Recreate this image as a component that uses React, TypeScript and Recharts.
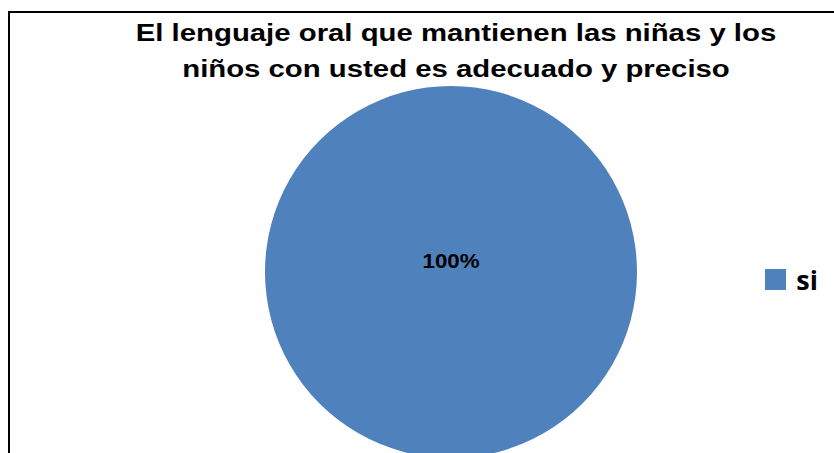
import React from "react";
import { PieChart, Pie, Cell, Legend } from "recharts";

const categories = ["si"];
const values = [100];
const percentLabels = ["100%"];
const titleLines = [
  "El lenguaje oral que mantienen las niñas y los",
  "niños con usted es adecuado y preciso",
];

const colors = ["#4F81BD"];

const data = categories.map((name, i) => ({ name, value: values[i] }));

const renderLabel = (props: any) => {
  const { cx, cy, index } = props;
  return (
    <text
      x={cx}
      y={cy - 12}
      textAnchor="middle"
      dominantBaseline="central"
      fill="#000"
      fontFamily="'Liberation Sans', Arial, sans-serif"
      fontWeight="bold"
      fontSize={21}
      textLength={57}
      lengthAdjust="spacingAndGlyphs"
    >
      {percentLabels[index]}
    </text>
  );
};

const renderLegend = () => (
  <div style={{ display: "flex", flexDirection: "column" }}>
    {categories.map((c, i) => (
      <div key={c} style={{ display: "flex", alignItems: "center" }}>
        <span
          style={{
            width: 21,
            height: 21,
            background: colors[i],
            display: "inline-block",
            marginRight: 10,
          }}
        />
        <span
          style={{
            fontFamily: "'Open Sans', 'Noto Sans', sans-serif",
            fontWeight: "bold",
            fontSize: 27,
            color: "#000",
          }}
        >
          {c}
        </span>
      </div>
    ))}
  </div>
);

export default function App() {
  return (
    <div
      style={{
        position: "fixed",
        left: 0,
        top: 0,
        width: 834,
        height: 453,
        background: "#fff",
        overflow: "hidden",
      }}
    >
      <div
        style={{
          position: "absolute",
          left: 8,
          top: 11,
          width: 840,
          height: 460,
          borderLeft: "2px solid #000",
          borderTop: "2px solid #000",
        }}
      />
      <div
        style={{
          position: "absolute",
          left: 0,
          top: 15,
          width: 912,
          textAlign: "center",
          fontFamily: "'Liberation Sans', Arial, sans-serif",
          fontWeight: "bold",
          fontSize: 23,
          lineHeight: "36px",
          color: "#000",
          transform: "scaleX(1.275)",
          transformOrigin: "456px 0",
        }}
      >
        {titleLines.map((t) => (
          <div key={t}>{t}</div>
        ))}
      </div>
      <PieChart
        width={834}
        height={453}
        margin={{ top: 0, right: 0, bottom: 0, left: 0 }}
        style={{ position: "absolute", left: 0, top: 0 }}
      >
        <Pie
          data={data}
          dataKey="value"
          nameKey="name"
          cx={451}
          cy={272}
          outerRadius={186}
          startAngle={90}
          endAngle={-270}
          stroke="none"
          label={renderLabel}
          labelLine={false}
          isAnimationActive={false}
        >
          {data.map((d, i) => (
            <Cell key={d.name} fill={colors[i]} />
          ))}
        </Pie>
        <Legend
          layout="vertical"
          align="right"
          verticalAlign="middle"
          content={renderLegend}
          wrapperStyle={{ right: 16, top: 261 }}
        />
      </PieChart>
    </div>
  );
}
